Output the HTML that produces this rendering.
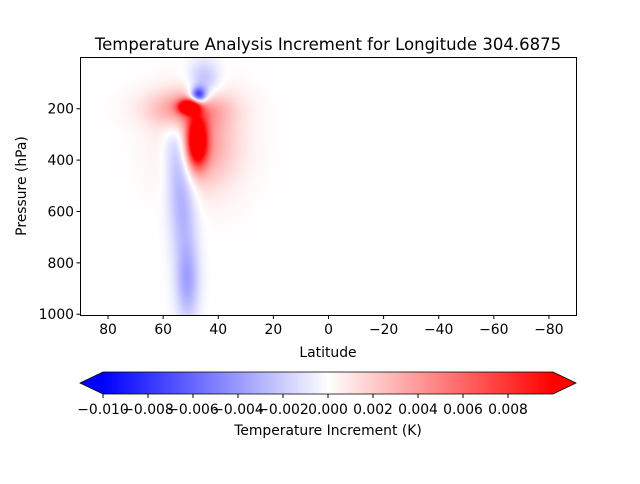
<!DOCTYPE html>
<html><head><meta charset="utf-8"><style>
body{margin:0;background:#fff;width:640px;height:480px;overflow:hidden;font-family:"DejaVu Sans","Liberation Sans",sans-serif}
svg text{font-family:"DejaVu Sans","Liberation Sans",sans-serif;fill:#000}
</style></head><body>
<svg id="chart" width="640" height="480" xmlns="http://www.w3.org/2000/svg">
<rect width="640" height="480" fill="#fff"/>
<text x="328" y="50" font-size="16.5" text-anchor="middle">Temperature Analysis Increment for Longitude 304.6875</text>
<foreignObject x="80" y="57" width="496" height="258"><canvas xmlns="http://www.w3.org/1999/xhtml" id="heat" width="496" height="258" style="display:block"></canvas></foreignObject>
<rect x="80.5" y="57.5" width="496" height="258" fill="none" stroke="#000" stroke-width="1"/>
<g id="xticks"></g>
<g id="yticks"></g>
<text x="328" y="357" font-size="13.9" text-anchor="middle">Latitude</text>
<text transform="translate(26,186) rotate(-90)" font-size="13.9" text-anchor="middle">Pressure (hPa)</text>
<defs><linearGradient id="bwr" x1="0" x2="1"><stop offset="0" stop-color="#0000ff"/><stop offset="0.5" stop-color="#ffffff"/><stop offset="1" stop-color="#ff0000"/></linearGradient></defs>
<polygon points="80,383 103,372 103,394" fill="#0000ff"/>
<polygon points="576,383 553,372 553,394" fill="#ff0000"/>
<rect x="103" y="372" width="450" height="22" fill="url(#bwr)"/>
<polygon points="80,383 103,372 553,372 576,383 553,394 103,394" fill="none" stroke="#000" stroke-width="0.8"/>
<g id="cticks"></g>
<text x="328" y="435" font-size="13.9" text-anchor="middle">Temperature Increment (K)</text>
</svg>
<script>
const blobLat=[50.5,51,47.5,46,47,45,55.5,54,52.5,51];
const blobP=[195,200,330,340,150,100,340,440,620,880];
const blobAmp=[0.014,0.004,0.013,0.004,-0.009,-0.003,-0.002,-0.0025,-0.0025,-0.0035];
const blobSigLat=[2.5,10,2.5,9,2,4,3.5,3.5,3.5,3];
const blobSigP=[18,50,65,120,22,60,80,110,130,110];
const xTickVals=[80,60,40,20,0,-20,-40,-60,-80];
const yTickVals=[200,400,600,800,1000];
const cTickVals=[-0.010,-0.008,-0.006,-0.004,-0.002,0.000,0.002,0.004,0.006,0.008];
const L=80,R=576,T=57,B=315;
const xs=lat=>L+(90-lat)/180*(R-L);
const ys=p=>T+(p-0.5)/1004.5*(B-T);
const cs=v=>103+(v+0.01)/0.02*450;
const NS='http://www.w3.org/2000/svg';
function mk(tag,attrs,parent,txt){const e=document.createElementNS(NS,tag);for(const k in attrs)e.setAttribute(k,attrs[k]);if(txt!==undefined)e.textContent=txt;parent.appendChild(e);return e;}
const fmt=v=>(v<0?'\u2212':'')+Math.abs(v);
const gx=document.getElementById('xticks');
xTickVals.forEach(v=>{const x=xs(v)+0.5;
const t=mk('line',{x1:x,x2:x,y1:B+0.5,y2:B+4,stroke:'#000'},gx);


const l=mk('text',{x:x,y:B+19,'font-size':13.9,'text-anchor':'middle'},gx,fmt(v));

});
const gy=document.getElementById('yticks');
yTickVals.forEach(v=>{const y=ys(v)+0.5;
const t=mk('line',{x1:L-3.5,x2:L+0.5,y1:y,y2:y,stroke:'#000'},gy);


const l=mk('text',{x:L-6,y:y+5,'font-size':13.9,'text-anchor':'end'},gy,String(v));

});
const gc=document.getElementById('cticks');
cTickVals.forEach(v=>{const x=cs(v);
const t=mk('line',{x1:x,x2:x,y1:394,y2:398,stroke:'#000'},gc);


const l=mk('text',{x:x,y:414,'font-size':13.9,'text-anchor':'middle'},gc,(v<0?'\u2212':'')+Math.abs(v).toFixed(3));

});
const cv=document.getElementById('heat'),ctx=cv.getContext('2d');
const W=cv.width,H=cv.height,img=ctx.createImageData(W,H);
for(let j=0;j<H;j++){const p=0.5+(j+0.5)/H*1004.5;
for(let i=0;i<W;i++){const lat=90-(i+0.5)/W*180;let v=0.00005;
for(let k=0;k<blobLat.length;k++){const a=(lat-blobLat[k])/blobSigLat[k],b=(p-blobP[k])/blobSigP[k];v+=blobAmp[k]*Math.exp(-0.5*(a*a+b*b));}
let t=Math.max(0,Math.min(1,(v+0.01)/0.02)),r,g,bl;
if(t<0.5){r=g=2*t*255;bl=255;}else{r=255;g=bl=(2-2*t)*255;}
const o=(j*W+i)*4;img.data[o]=r;img.data[o+1]=g;img.data[o+2]=bl;img.data[o+3]=255;}}
ctx.putImageData(img,0,0);
</script>
</body></html>
